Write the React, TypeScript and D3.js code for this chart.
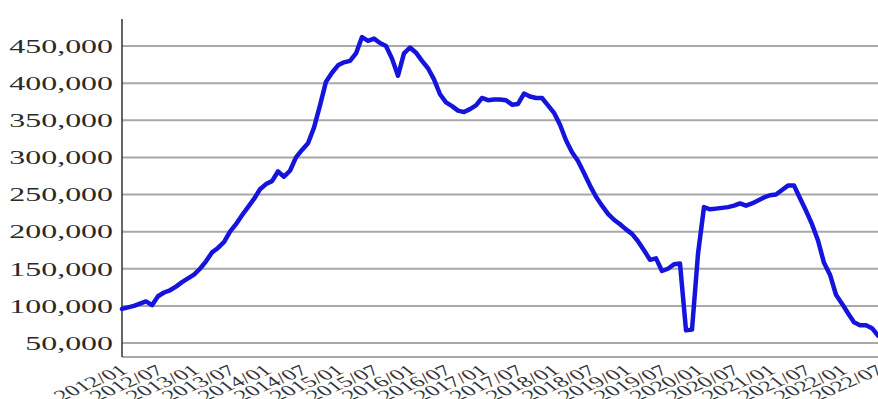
import React from "react";
import * as d3 from "d3";

const startYear = 2012;
const values: number[] = [
  96000, 98000, 100000, 103000, 106000, 101000, 113000, 118000, 121000, 126000,
  132000, 137000, 142000, 150000, 160000, 172000, 178000, 186000, 200000, 210000,
  222000, 233000, 244000, 257000, 264000, 268000, 281000, 274000, 282000, 300000,
  310000, 319000, 340000, 370000, 402000, 414000, 424000, 428000, 430000, 440000,
  462000, 457000, 460000, 454000, 450000, 433000, 410000, 440000, 448000, 441000,
  430000, 420000, 405000, 385000, 374000, 369000, 363000, 361000, 365000, 370000,
  380000, 377000, 378000, 378000, 377000, 371000, 372000, 386000, 382000, 380000,
  380000, 370000, 360000, 344000, 323000, 307000, 295000, 279000, 262000, 247000,
  235000, 224000, 216000, 210000, 203000, 197000, 187000, 175000, 162000, 164000,
  147000, 150000, 156000, 157000, 67000, 68000, 170000, 233000, 230000, 231000,
  232000, 233000, 235000, 238000, 235000, 238000, 242000, 246000, 249000, 250000,
  256000, 262000, 262000, 245000, 228000, 210000, 188000, 158000, 142000, 115000,
  103000, 90000, 78000, 74000, 74000, 70000, 60000,
];
const yTicks: number[] = [50000, 100000, 150000, 200000, 250000, 300000, 350000, 400000, 450000];
const xTickLabels: string[] = [
  "2012/01", "2012/07", "2013/01", "2013/07", "2014/01", "2014/07", "2015/01", "2015/07",
  "2016/01", "2016/07", "2017/01", "2017/07", "2018/01", "2018/07", "2019/01", "2019/07",
  "2020/01", "2020/07", "2021/01", "2021/07", "2022/01", "2022/07",
];

export default function App() {
  const W = 878, H = 399;
  const left = 122, right = 878, top = 19, bottom = 357;
  const x = d3.scaleLinear().domain([0, values.length - 1]).range([left, right]);
  const y = d3.scaleLinear().domain([50000, 450000]).range([343, 46]);
  const line = d3.line<number>().x((_, i) => x(i)).y((d) => y(d));
  const fmt = d3.format(",");
  const labelIndex = (s: string) => {
    const [yy, mm] = s.split("/").map(Number);
    return (yy - startYear) * 12 + (mm - 1);
  };
  return (
    <svg width={W} height={H} style={{ position: "absolute", left: 0, top: 0, background: "#fff" }}>
      {yTicks.map((t) => (
        <g key={t}>
          <line x1={left} x2={right} y1={y(t)} y2={y(t)} stroke="#a8a8a8" strokeWidth={2} />
          <text
            transform={`translate(113,${y(t)}) scale(1.68,1)`}
            textAnchor="end"
            dy="0.36em"
            fontFamily="'Liberation Serif', 'DejaVu Serif', serif"
            fontSize={19}
            fill="#2a2a2a"
          >
            {fmt(t)}
          </text>
        </g>
      ))}
      <line x1={left} x2={right} y1={bottom} y2={bottom} stroke="#8a8a8a" strokeWidth={1.5} />
      <line x1={left} x2={left} y1={top} y2={bottom} stroke="#333" strokeWidth={1.5} />
      {xTickLabels.map((s) => (
        <text
          key={s}
          transform={`translate(${x(labelIndex(s)) + 2},368) scale(1.7,1) rotate(-36)`}
          textAnchor="end"
          dy="0.35em"
          fontFamily="'Liberation Serif', 'DejaVu Serif', serif"
          fontSize={15}
          fill="#333"
        >
          {s}
        </text>
      ))}
      <path d={line(values) || ""} fill="none" stroke="#1414dc" strokeWidth={4.5} strokeLinejoin="round" strokeLinecap="round" />
    </svg>
  );
}
